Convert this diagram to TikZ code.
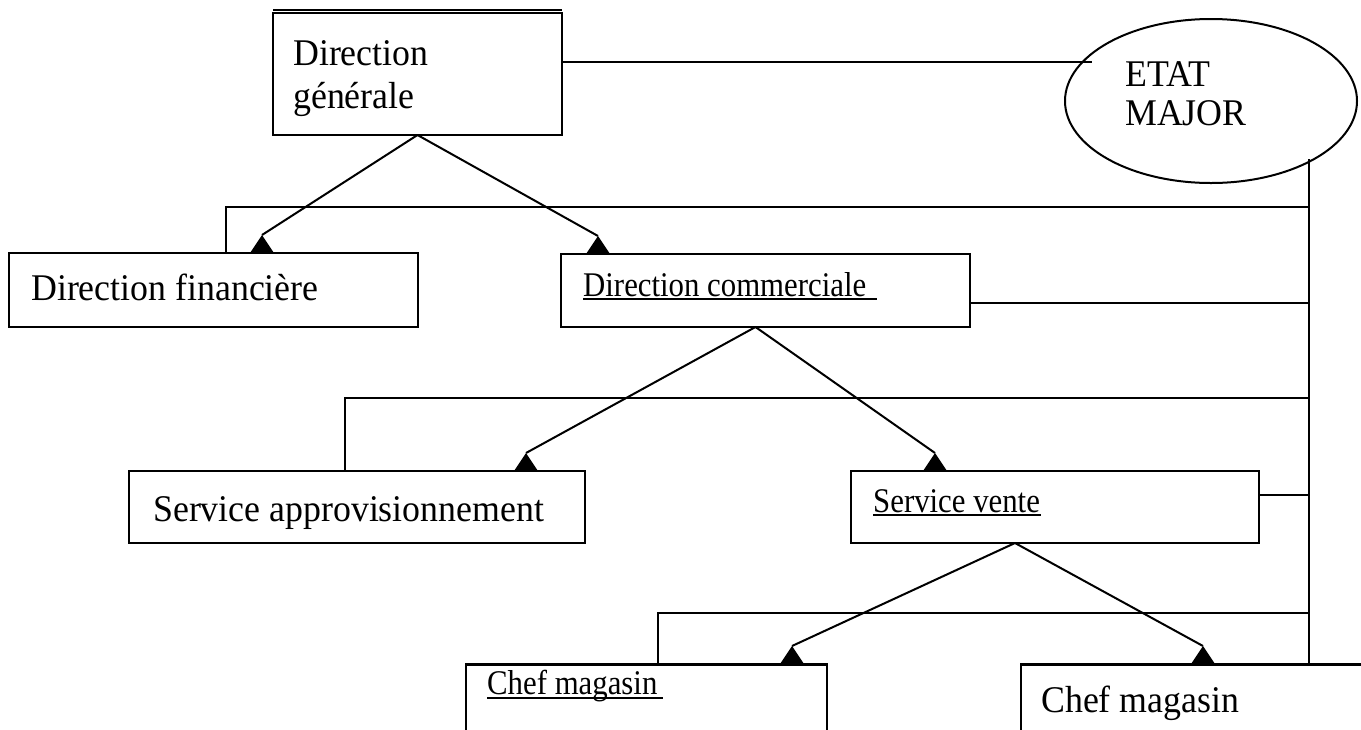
\documentclass[tikz,border=0pt]{standalone}
\usepackage{fontspec}
\setmainfont{Liberation Serif}
\newfontfamily\bigf[FakeStretch=0.95]{Liberation Serif}
\newfontfamily\smallf[FakeStretch=0.89]{Liberation Serif}
\usetikzlibrary{shapes.geometric,calc}
\newcommand\arrtip[1]{\fill (#1) -- ++(-12,18) -- ++(24,0) -- cycle;}
\begin{document}
\begin{tikzpicture}[x=1pt,y=-1pt,
  box/.style={draw, line width=2pt, rectangle, inner sep=0pt, outer sep=0pt, anchor=north west},
  big/.style={inner sep=0pt, anchor=base west, font=\bigf\fontsize{37.7pt}{42pt}\selectfont},
  small/.style={inner sep=0pt, anchor=base west, font=\smallf\fontsize{34.6pt}{38pt}\selectfont},
  conn/.style={line width=2pt},
  ul/.style={line width=2pt}]
\useasboundingbox (0,0) rectangle (1361,729);
\clip (0,0) rectangle (1361,729);
% boxes
\node[box, minimum width=289pt, minimum height=122pt] (dg) at (273,13) {};
\node[box, minimum width=409pt, minimum height=74pt] (df) at (9,253) {};
\node[box, minimum width=409pt, minimum height=73pt] (dc) at (561,254) {};
\node[box, minimum width=456pt, minimum height=72pt] (sa) at (129,471) {};
\node[box, minimum width=408pt, minimum height=72pt] (sv) at (851,471) {};
\node[box, minimum width=361pt, minimum height=120pt] (cm1) at (466,664) {};
\node[box, minimum width=400pt, minimum height=120pt] (cm2) at (1021,664) {};
\node[draw, ellipse, line width=2pt, minimum width=292pt, minimum height=164pt, inner sep=0pt] (em) at (1211,101) {};
% extra heavy top lines
\draw[line width=1.6pt] ([yshift=3pt]dg.north west) -- ([yshift=3pt]dg.north east);
\draw[line width=3pt] (cm1.north west) -- (cm1.north east);
\draw[line width=3pt] (cm2.north west) -- (cm2.north east);
% texts
\node[big] (dg1) at (293,65) {Direction};
\node[big] (dg2) at (293,108) {générale};
\node[big] (et1) at (1125,86) {ETAT};
\node[big] (et2) at (1125,125) {MAJOR};
\node[big] (dft) at (31,300) {Direction financière};
\node[small] (dct) at (583,296) {Direction commerciale};
\draw[ul] ([yshift=-3pt]dct.base west) -- ++(294,0);
\node[big] (sat) at (153,521) {Service approvisionnement};
\node[small] (svt) at (873,512) {Service vente};
\draw[ul] ([yshift=-3pt]svt.base west) -- ++(168,0);
\node[small] (cm1t) at (487,694) {Chef magasin};
\draw[ul] ([yshift=-4pt]cm1t.base west) -- ++(176,0);
\node[big] (cm2t) at (1041,712) {Chef magasin};
% coordinates
\coordinate (eL) at (1092,62);
\coordinate (ev) at (1309,159);
\coordinate (h1) at (226,207);
\coordinate (h3) at (345,398);
\coordinate (h5) at (658,613);
\coordinate (aDF) at (262,235);
\coordinate (aDC) at (598,236);
\coordinate (aSA) at (526,453);
\coordinate (aSV) at (935,453);
\coordinate (aC1) at (792,646);
\coordinate (aC2) at (1203,646);
% staff connections
\draw[conn] ([yshift=12pt]dg.east) -- (eL);
\draw[conn] (ev) -- (ev |- cm2.north);
\draw[conn] (h1 |- df.north) -- (h1) -- (h1 -| ev);
\draw[conn] ([yshift=-12pt]dc.east) -- ([yshift=-12pt]dc.east -| ev);
\draw[conn] (h3 |- sa.north) -- (h3) -- (h3 -| ev);
\draw[conn] ([yshift=12pt]sv.east) -- ([yshift=12pt]sv.east -| ev);
\draw[conn] (h5 |- cm1.north) -- (h5) -- (h5 -| ev);
% hierarchy arrows
\draw[conn] (dg.south) -- (aDF); \arrtip{aDF}
\draw[conn] (dg.south) -- (aDC); \arrtip{aDC}
\draw[conn] ([xshift=-10pt]dc.south) -- (aSA); \arrtip{aSA}
\draw[conn] ([xshift=-10pt]dc.south) -- (aSV); \arrtip{aSV}
\draw[conn] ([xshift=-40pt]sv.south) -- (aC1); \arrtip{aC1}
\draw[conn] ([xshift=-40pt]sv.south) -- (aC2); \arrtip{aC2}
\end{tikzpicture}
\end{document}
